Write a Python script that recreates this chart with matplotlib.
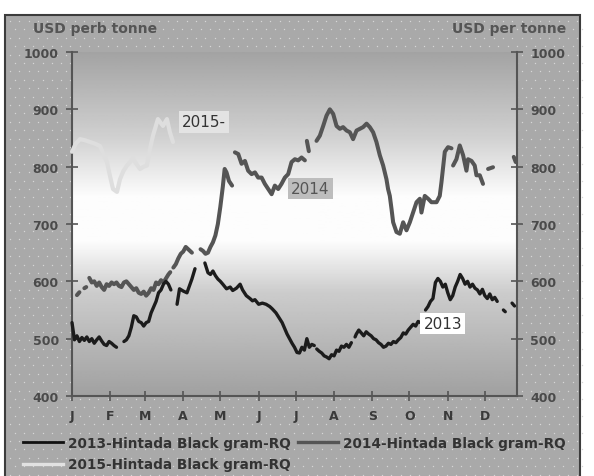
import numpy as np
import matplotlib
matplotlib.use("Agg")
import matplotlib.pyplot as plt
from matplotlib.patches import Rectangle
from matplotlib.lines import Line2D

nan = np.nan

# day of year, USD per tonne (nan = break in the series)
p2013 = [(0, 528), (2, 498), (4, 505), (6, 495), (8, 502), (10, 497), (12, 503), (14, 495),
         (16, 500), (18, 492), (20, 498), (22, 503), (24, 496), (26, 490), (28, 488), (30, 495),
         (32, 492), (34, 488), (36, 485), (39, nan), (42, 495), (44, 498), (46, 505), (48, 520),
         (50, 540), (52, 538), (54, 530), (56, 528), (58, 522), (60, 528), (62, 530), (64, 545),
         (66, 555), (68, 565), (70, 580), (72, 585), (74, 595), (76, 600), (78, 595), (80, 585),
         (82, nan), (85, 560), (87, 587), (90, 583), (93, 580), (95, 592), (97, 604), (99.5, 622),
         (103, nan), (107.5, 632), (110, 615), (112, 612), (114, 618), (116, 610), (118, 604),
         (120, 600), (122, 595), (125, 587), (128, 590), (130, 584), (133, 588), (136, 595),
         (138, 585), (141, 575), (144, 570), (146, 566), (148, 568), (151, 560), (154, 562),
         (157, 560), (160, 556), (162, 552), (165, 545), (168, 535), (170, 528), (172, 518),
         (174, 508), (176, 500), (178, 492), (180, 485), (182, 476), (184, 475), (186, 485),
         (188, 480), (190, 500), (192, 485), (194, 490), (196, 488), (197, nan), (198, 482),
         (200, 478), (202, 475), (204, 470), (206, 468), (208, 465), (210, 472), (212, 470),
         (214, 480), (216, 478), (218, 487), (220, 485), (222, 490), (224, 485), (226, 493),
         (227.5, nan), (229, 503), (230, 508), (232, 515), (234, 510), (236, 505), (238, 512),
         (240, 508), (242, 505), (244, 500), (246, 498), (248, 493), (250, 490), (252, 485),
         (254, 487), (256, 492), (258, 490), (260, 495), (262, 493), (264, 498), (266, 502),
         (268, 510), (270, 508), (272, 515), (274, 520), (276, 525), (278, 522), (280, 530),
         (282, 528), (284, nan), (286, 550), (288, 556), (290, 565), (292, 570), (294, 598),
         (296, 605), (298, 600), (300, 590), (302, 595), (304, 580), (306, 568), (308, 575),
         (310, 590), (312, 600), (314, 612), (316, 605), (318, 595), (320, 600), (322, 590),
         (324, 595), (326, 588), (328, 585), (330, 578), (332, 586), (334, 575), (336, 570),
         (338, 578), (340, 568), (342, 572), (344, 565), (346, nan), (349, 550), (350.5, 547),
         (352, nan), (356, 562), (358, 557)]

p2014 = [(4, 576), (6, 581), (8, nan), (10, 588), (11.5, 590), (12.5, nan), (14, 606), (16, 598),
         (18, 600), (20, 592), (22, 598), (24, 590), (26, 585), (28, 595), (30, 592), (32, 598),
         (34, 595), (36, 598), (38, 592), (40, 590), (42, 598), (44, 600), (46, 595), (48, 590),
         (50, 585), (52, 588), (54, 580), (56, 578), (58, 582), (60, 575), (62, 580), (64, 588),
         (66, 585), (68, 598), (70, 595), (72, 602), (74, 598), (76, 605), (78, 612), (79.5, 616),
         (81, nan), (82, 624), (84, 630), (86, 640), (88, 648), (90, 652), (92, 660), (94, 656),
         (97, 650), (100, nan), (104, 656), (106, 653), (108, 648), (110, 650), (112, 660),
         (114, 668), (116, 680), (118, 700), (120, 730), (122, 765), (123.5, 796), (125, 790),
         (127, 775), (129.5, 767), (130.5, nan), (131.8, 825), (134.5, 822), (137.2, 805),
         (139.9, 810), (142.5, 793), (145.3, 787), (148, 790), (150.6, 781), (153.4, 781),
         (156, 770), (158.7, 761), (161.5, 752), (164.1, 767), (166.8, 761), (169.5, 770),
         (172.2, 781), (174.9, 787), (177.6, 808), (180.3, 813), (183, 811), (185.7, 816),
         (188.4, 811), (189.2, nan), (190, 845), (191.6, 827), (193, nan), (197.8, 845),
         (200.5, 854), (203.2, 871), (205.9, 889), (208.6, 900), (211.3, 892), (214, 871),
         (216.7, 866), (219.3, 869), (222.1, 863), (224.8, 860), (227.4, 848), (230.2, 863),
         (232.8, 866), (235.5, 869), (238.3, 875), (240.9, 869), (243.6, 860), (246.3, 843),
         (249, 820), (251.7, 802), (254.4, 778), (255.7, 761), (257.1, 749), (258.5, 726),
         (259.8, 703), (262.5, 686), (265.2, 683), (267.9, 703), (270.6, 689), (273.3, 703),
         (275.9, 720), (278.7, 738), (281.4, 744), (282.7, 720), (285.4, 749), (288.1, 744),
         (290.8, 738), (294.9, 738), (297.5, 749), (298.9, 773), (301.6, 826), (304.2, 834),
         (307, 832), (307.6, nan), (308.3, 802), (311, 813), (313.7, 837), (316.4, 820),
         (319.1, 793), (320.4, 813), (323.2, 810), (325.8, 802), (327.2, 785), (329.9, 785),
         (332.5, 770), (334.5, nan), (336.6, 796), (340.6, 799), (348, nan), (357.4, 817),
         (359, 808)]

p2015 = [(0, 826), (3, 840), (6.5, 848), (10.5, 846), (14.6, 843), (18.6, 840), (22.6, 836),
         (25.5, 822), (28.3, 808), (30.7, 784), (33.2, 761), (36.4, 756), (38.8, 778),
         (41.5, 792), (44.5, 802), (49.3, 814), (52, 805), (55, 796), (58, 800), (60.6, 802),
         (63, 830), (65.5, 854), (69.5, 883), (73.6, 871), (76.8, 883), (79.2, 860), (81.7, 843)]

month_days = [0, 31, 59, 90, 120, 151, 181, 212, 243, 273, 304, 334]
month_labels = ['J', 'F', 'M', 'A', 'M', 'J', 'J', 'A', 'S', 'O', 'N', 'D']
yticks = [400, 500, 600, 700, 800, 900, 1000]

d13, v13 = np.array(p2013).T
d14, v14 = np.array(p2014).T
d15, v15 = np.array(p2015).T

plt.rcParams['font.family'] = 'DejaVu Sans'
plt.rcParams['font.weight'] = 'bold'

fig = plt.figure(figsize=(5.94, 4.77), dpi=100)

# dotted gray panel behind everything
bg = fig.add_axes([0, 0, 1, 1], zorder=-1)
bg.set_xlim(0, 594)
bg.set_ylim(477, 0)
bg.axis('off')
bg.add_patch(Rectangle((5, 16), 575, 470, fc='#a9a9a9', ec='#3c3c3c', lw=1.5))
gx, gy = np.meshgrid(np.arange(10, 578, 9.3), np.arange(22, 477, 8.4))
gx[1::2] += 4.65
bg.scatter(gx.ravel(), gy.ravel(), s=1.0, c='#d6d6d6', lw=0)

ax = fig.add_axes([72/594, 80/477, 445/594, 344/477])
ax.set_xlim(0, 360)
ax.set_ylim(400, 1000)

# vertical gradient: gray top/bottom, white band in the middle
t = np.linspace(0, 1, 256)
shade = np.interp(t, [0, 0.3, 0.45, 0.58, 0.75, 1.0], [0.63, 0.8, 0.99, 0.99, 0.82, 0.64])
ax.imshow(shade[:, None], extent=[0, 360, 1000, 400], aspect='auto', cmap='gray',
          vmin=0, vmax=1, zorder=0, origin='upper')
ax.set_ylim(400, 1000)

ax.plot(d15, v15, color='#dedede', lw=3.0, solid_capstyle='round', zorder=3, clip_on=False)
ax.plot(d14, v14, color='#555555', lw=2.9, solid_capstyle='round', zorder=4, clip_on=False)
ax.plot(d13, v13, color='#1c1c1c', lw=2.4, solid_capstyle='round', zorder=5, clip_on=False)

for s in ['left', 'right', 'bottom']:
    ax.spines[s].set_color('#555555')
    ax.spines[s].set_linewidth(1.5)
ax.spines['top'].set_visible(False)

ax.set_yticks(yticks)
ax.set_xticks(month_days)
ax.set_xticklabels(month_labels)
ax.tick_params(axis='y', left=True, right=True, labelleft=True, labelright=True,
               direction='inout', length=8, width=1.2, color='#555555',
               labelcolor='#4a4a4a', labelsize=9, pad=5.5)
ax.tick_params(axis='x', direction='inout', length=7, width=1.2, color='#555555',
               labelcolor='#3a3a3a', labelsize=9, pad=6)

fig.text(33/594, 1 - 29/477, 'USD perb tonne', ha='left', va='center', color='#555555', fontsize=10)
fig.text(566/594, 1 - 29/477, 'USD per tonne', ha='right', va='center', color='#555555', fontsize=10)

ax.text(107, 878, '2015-', ha='center', va='center', fontsize=11, fontweight='normal',
        color='#333333', zorder=6, bbox=dict(boxstyle='square,pad=0.2', fc='#e3e3e3', ec='none'))
ax.text(192.8, 762, '2014', ha='center', va='center', fontsize=11, fontweight='normal',
        color='#555555', zorder=6, bbox=dict(boxstyle='square,pad=0.2', fc='#bdbdbd', ec='none'))
ax.text(300, 526, '2013', ha='center', va='center', fontsize=11, fontweight='normal',
        color='#333333', zorder=6, bbox=dict(boxstyle='square,pad=0.2', fc='white', ec='none'))

h13 = Line2D([], [], color='#111111', lw=2.0)
h14 = Line2D([], [], color='#555555', lw=2.4)
h15 = Line2D([], [], color='#e2e2e2', lw=2.4)
leg = fig.legend([h13, h15, h14],
                 ['2013-Hintada Black gram-RQ', '2015-Hintada Black gram-RQ',
                  '2014-Hintada Black gram-RQ'],
                 ncol=2, loc='upper left', bbox_to_anchor=(23/594, 1 - 437/477),
                 frameon=False, borderpad=0, borderaxespad=0, handlelength=2.95,
                 handletextpad=0.37, columnspacing=0.5, labelspacing=0.55, fontsize=9.8)
for txt in leg.get_texts():
    txt.set_color('#333333')

fig.savefig('out.png', dpi=100)
